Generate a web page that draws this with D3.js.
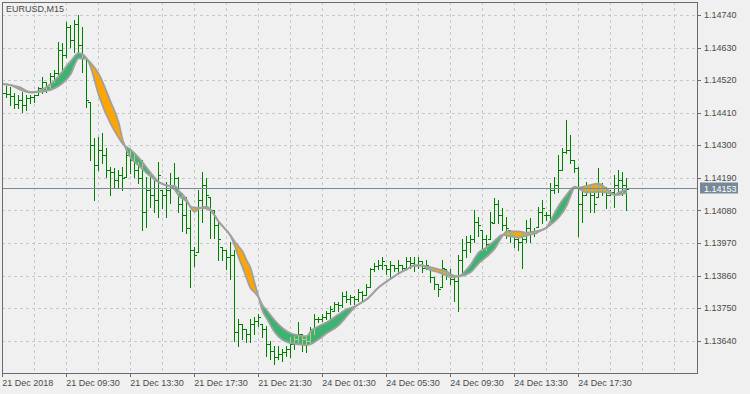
<!DOCTYPE html>
<html>
<head>
<meta charset="utf-8">
<script src="https://cdn.jsdelivr.net/npm/d3@7"></script>
<style>
body { margin: 0; background: #f0f0f0; }
svg { display: block; font-family: "Liberation Sans", Arial, sans-serif; }
</style>
</head>
<body>
<svg id="chart"></svg>
<script>
// EURUSD M15 bars, 21-24 Dec 2018
let opens = [
  1.14493, 1.14477, 1.14473, 1.14466, 1.14440, 1.14453, 1.14436, 1.14460, 1.14463, 1.14470,
  1.14493, 1.14514, 1.14500, 1.14534, 1.14544, 1.14621, 1.14605, 1.14699, 1.14655, 1.14709,
  1.14638, 1.14594, 1.14446, 1.14302, 1.14234, 1.14285, 1.14268, 1.14217, 1.14211, 1.14184,
  1.14201, 1.14194, 1.14268, 1.14251, 1.14217, 1.14190, 1.14073, 1.14150, 1.14133, 1.14116,
  1.14150, 1.14133, 1.14150, 1.14167, 1.14190, 1.14100, 1.14066, 1.14022, 1.13948, 1.13938,
  1.14116, 1.14167, 1.14126, 1.14083, 1.14032, 1.13958, 1.13948, 1.13921, 1.13931, 1.13669,
  1.13695, 1.13679, 1.13662, 1.13695, 1.13706, 1.13695, 1.13679, 1.13628, 1.13604, 1.13584,
  1.13594, 1.13601, 1.13611, 1.13628, 1.13645, 1.13662, 1.13645, 1.13638, 1.13679, 1.13712,
  1.13712, 1.13719, 1.13733, 1.13739, 1.13763, 1.13759, 1.13790, 1.13780, 1.13786, 1.13780,
  1.13803, 1.13796, 1.13823, 1.13881, 1.13891, 1.13897, 1.13897, 1.13881, 1.13897, 1.13887,
  1.13897, 1.13887, 1.13908, 1.13904, 1.13897, 1.13908, 1.13887, 1.13887, 1.13854, 1.13830,
  1.13823, 1.13881, 1.13864, 1.13847, 1.13840, 1.13914, 1.13948, 1.13975, 1.13982, 1.14042,
  1.14015, 1.13982, 1.13982, 1.14039, 1.14100, 1.14066, 1.14032, 1.14015, 1.13998, 1.13982,
  1.13975, 1.13982, 1.14022, 1.14009, 1.14025, 1.14076, 1.14066, 1.14066, 1.14150, 1.14167,
  1.14217, 1.14278, 1.14285, 1.14251, 1.14224, 1.14100, 1.14133, 1.14157, 1.14133, 1.14126,
  1.14167, 1.14157, 1.14133, 1.14143, 1.14167, 1.14184, 1.14167
];
let highs = [
  1.14507, 1.14500, 1.14497, 1.14477, 1.14470, 1.14480, 1.14470, 1.14470, 1.14470, 1.14497,
  1.14530, 1.14514, 1.14544, 1.14554, 1.14648, 1.14645, 1.14716, 1.14706, 1.14722, 1.14739,
  1.14699, 1.14594, 1.14446, 1.14325, 1.14328, 1.14342, 1.14291, 1.14227, 1.14224, 1.14217,
  1.14227, 1.14291, 1.14285, 1.14275, 1.14244, 1.14251, 1.14194, 1.14207, 1.14194, 1.14244,
  1.14150, 1.14177, 1.14207, 1.14241, 1.14194, 1.14140, 1.14126, 1.14083, 1.13958, 1.14150,
  1.14211, 1.14190, 1.14126, 1.14083, 1.14039, 1.13958, 1.13948, 1.13972, 1.13948, 1.13712,
  1.13695, 1.13679, 1.13712, 1.13719, 1.13729, 1.13695, 1.13689, 1.13638, 1.13621, 1.13621,
  1.13611, 1.13621, 1.13652, 1.13655, 1.13702, 1.13662, 1.13652, 1.13685, 1.13729, 1.13719,
  1.13729, 1.13739, 1.13756, 1.13770, 1.13770, 1.13803, 1.13807, 1.13796, 1.13790, 1.13813,
  1.13807, 1.13830, 1.13887, 1.13904, 1.13914, 1.13921, 1.13897, 1.13908, 1.13897, 1.13914,
  1.13897, 1.13921, 1.13921, 1.13921, 1.13921, 1.13908, 1.13914, 1.13887, 1.13854, 1.13830,
  1.13914, 1.13881, 1.13881, 1.13857, 1.13931, 1.13982, 1.13992, 1.13998, 1.14083, 1.14059,
  1.14015, 1.13998, 1.14076, 1.14123, 1.14116, 1.14089, 1.14059, 1.14015, 1.13998, 1.13988,
  1.14005, 1.14049, 1.14056, 1.14022, 1.14093, 1.14116, 1.14073, 1.14174, 1.14194, 1.14268,
  1.14291, 1.14386, 1.14335, 1.14251, 1.14227, 1.14160, 1.14177, 1.14167, 1.14160, 1.14224,
  1.14174, 1.14160, 1.14150, 1.14201, 1.14217, 1.14211, 1.14190
];
let lows = [
  1.14463, 1.14463, 1.14436, 1.14426, 1.14426, 1.14413, 1.14419, 1.14443, 1.14446, 1.14470,
  1.14477, 1.14480, 1.14487, 1.14514, 1.14530, 1.14547, 1.14598, 1.14632, 1.14615, 1.14611,
  1.14547, 1.14429, 1.14251, 1.14116, 1.14217, 1.14241, 1.14194, 1.14133, 1.14157, 1.14160,
  1.14150, 1.14194, 1.14207, 1.14194, 1.14174, 1.14015, 1.14025, 1.14093, 1.14076, 1.14059,
  1.14089, 1.14059, 1.14106, 1.14157, 1.14073, 1.14009, 1.14005, 1.13823, 1.13891, 1.13938,
  1.14042, 1.14093, 1.13988, 1.13988, 1.13914, 1.13914, 1.13881, 1.13847, 1.13638, 1.13621,
  1.13645, 1.13635, 1.13635, 1.13662, 1.13689, 1.13652, 1.13588, 1.13578, 1.13561, 1.13578,
  1.13571, 1.13588, 1.13584, 1.13611, 1.13635, 1.13604, 1.13601, 1.13628, 1.13662, 1.13702,
  1.13706, 1.13712, 1.13712, 1.13739, 1.13739, 1.13753, 1.13770, 1.13763, 1.13763, 1.13773,
  1.13773, 1.13796, 1.13823, 1.13874, 1.13881, 1.13881, 1.13864, 1.13847, 1.13874, 1.13871,
  1.13874, 1.13881, 1.13887, 1.13874, 1.13887, 1.13871, 1.13881, 1.13837, 1.13813, 1.13790,
  1.13823, 1.13847, 1.13830, 1.13773, 1.13739, 1.13871, 1.13924, 1.13941, 1.13972, 1.13992,
  1.13948, 1.13948, 1.13982, 1.14039, 1.14039, 1.14015, 1.13988, 1.13975, 1.13955, 1.13948,
  1.13887, 1.13975, 1.13975, 1.13992, 1.14025, 1.14039, 1.14049, 1.14032, 1.14140, 1.14143,
  1.14217, 1.14275, 1.14241, 1.14211, 1.13992, 1.14042, 1.14133, 1.14076, 1.14076, 1.14126,
  1.14133, 1.14089, 1.14133, 1.14093, 1.14140, 1.14133, 1.14083
];
let closes = [
  1.14477, 1.14473, 1.14466, 1.14440, 1.14453, 1.14436, 1.14460, 1.14463, 1.14470, 1.14493,
  1.14514, 1.14500, 1.14534, 1.14544, 1.14621, 1.14605, 1.14699, 1.14655, 1.14709, 1.14638,
  1.14594, 1.14453, 1.14302, 1.14234, 1.14285, 1.14268, 1.14217, 1.14211, 1.14184, 1.14201,
  1.14190, 1.14268, 1.14251, 1.14217, 1.14190, 1.14073, 1.14150, 1.14133, 1.14116, 1.14201,
  1.14133, 1.14150, 1.14167, 1.14190, 1.14100, 1.14066, 1.14022, 1.13948, 1.13931, 1.14116,
  1.14167, 1.14133, 1.14083, 1.14032, 1.13982, 1.13948, 1.13921, 1.13931, 1.13669, 1.13695,
  1.13679, 1.13662, 1.13695, 1.13706, 1.13719, 1.13679, 1.13628, 1.13604, 1.13584, 1.13594,
  1.13601, 1.13611, 1.13628, 1.13645, 1.13662, 1.13645, 1.13638, 1.13679, 1.13712, 1.13712,
  1.13719, 1.13733, 1.13746, 1.13763, 1.13759, 1.13790, 1.13780, 1.13786, 1.13780, 1.13803,
  1.13796, 1.13823, 1.13881, 1.13891, 1.13897, 1.13908, 1.13881, 1.13897, 1.13887, 1.13897,
  1.13887, 1.13908, 1.13904, 1.13897, 1.13908, 1.13887, 1.13897, 1.13854, 1.13830, 1.13813,
  1.13887, 1.13864, 1.13847, 1.13840, 1.13914, 1.13948, 1.13975, 1.13982, 1.14042, 1.14032,
  1.13982, 1.13965, 1.14042, 1.14100, 1.14066, 1.14032, 1.14022, 1.13998, 1.13982, 1.13975,
  1.13982, 1.14022, 1.14009, 1.14005, 1.14076, 1.14089, 1.14066, 1.14150, 1.14167, 1.14217,
  1.14278, 1.14285, 1.14251, 1.14224, 1.14100, 1.14133, 1.14157, 1.14133, 1.14100, 1.14167,
  1.14157, 1.14133, 1.14143, 1.14167, 1.14184, 1.14167, 1.14153
];

// two moving averages of the band indicator, read at these bar numbers
let maIdx = [0, 2, 4, 7, 9, 12, 14, 17, 19, 21, 22, 24, 27, 29, 30, 32, 34, 37, 39, 42,
  43, 44, 46, 47, 48, 49, 51, 52, 54, 57, 58, 59, 60, 61, 62, 63, 64, 65, 66, 68, 70,
  72, 74, 76, 77, 79, 81, 84, 86, 88, 89, 91, 94, 96, 99, 101, 103, 105, 106, 109, 111,
  112, 114, 116, 117, 119, 121, 123, 125, 126, 129, 131, 133, 135, 136, 137, 139, 141, 142, 143, 144,
  146, 149, 151, 153, 154, 156];
let maFast = [1.14507, 1.14503, 1.14490, 1.14478, 1.14483, 1.14507, 1.14534, 1.14584, 1.14611, 1.14594,
  1.14564, 1.14470, 1.14372, 1.14325, 1.14305, 1.14285, 1.14258, 1.14207, 1.14177, 1.14163,
  1.14163, 1.14147, 1.14116, 1.14089, 1.14076, 1.14086, 1.14093, 1.14083, 1.14042, 1.13992,
  1.13961, 1.13921, 1.13887, 1.13850, 1.13817, 1.13803, 1.13786, 1.13759, 1.13743, 1.13709, 1.13682,
  1.13665, 1.13658, 1.13655, 1.13672, 1.13689, 1.13702, 1.13729, 1.13746, 1.13756, 1.13763,
  1.13780, 1.13820, 1.13840, 1.13867, 1.13881, 1.13894, 1.13894, 1.13884, 1.13871, 1.13860,
  1.13854, 1.13857, 1.13881, 1.13897, 1.13938, 1.13955, 1.13978, 1.13998, 1.13995, 1.13988,
  1.13995, 1.14002, 1.14015, 1.14022, 1.14046, 1.14096, 1.14133, 1.14150, 1.14160, 1.14153,
  1.14140, 1.14143, 1.14140, 1.14133, 1.14140, 1.14150];
let maSlow = [1.14507, 1.14503, 1.14497, 1.14480, 1.14480, 1.14487, 1.14500, 1.14541, 1.14594, 1.14591,
  1.14578, 1.14541, 1.14446, 1.14376, 1.14318, 1.14258, 1.14231, 1.14194, 1.14174, 1.14160,
  1.14150, 1.14130, 1.14110, 1.14093, 1.14089, 1.14089, 1.14086, 1.14079, 1.14042, 1.13995,
  1.13975, 1.13958, 1.13941, 1.13911, 1.13884, 1.13834, 1.13786, 1.13739, 1.13716, 1.13669, 1.13642,
  1.13632, 1.13628, 1.13625, 1.13628, 1.13645, 1.13665, 1.13692, 1.13722, 1.13753, 1.13763,
  1.13780, 1.13820, 1.13840, 1.13867, 1.13881, 1.13894, 1.13894, 1.13891, 1.13881, 1.13874,
  1.13864, 1.13857, 1.13864, 1.13871, 1.13901, 1.13924, 1.13951, 1.13995, 1.14009, 1.14009,
  1.14005, 1.14009, 1.14015, 1.14022, 1.14032, 1.14056, 1.14096, 1.14130, 1.14157, 1.14157,
  1.14163, 1.14170, 1.14153, 1.14133, 1.14133, 1.14140];

let yTicks = [1.14740, 1.14630, 1.14520, 1.14410, 1.14300, 1.14190, 1.14080, 1.13970, 1.13860, 1.13750, 1.13640];
let xTickIdx = [0, 16, 32, 48, 64, 80, 96, 112, 128, 144];
let xTickLabels = ['21 Dec 2018', '21 Dec 09:30', '21 Dec 13:30', '21 Dec 17:30', '21 Dec 21:30',
  '24 Dec 01:30', '24 Dec 05:30', '24 Dec 09:30', '24 Dec 13:30', '24 Dec 17:30'];
let lastPrice = 1.14153;

// Size and plot frame
let width = 750;
let height = 394;
let frameL = 2, frameR = 697, frameT = 2, frameB = 373;

let svg = d3.select('#chart')
    .attr('width', width)
    .attr('height', height);

// bar number -> x, price -> y
let x = d3.scaleLinear().domain([0, 173.5]).range([2.7, 696.7]);
let y = d3.scaleLinear().domain([1.13640, 1.14740]).range([340.7, 15]);

let px = v => Math.floor(v) + 0.5;
let py = v => Math.round(v) + 0.5;

svg.append('rect')
    .attr('width', width).attr('height', height)
    .attr('fill', '#f0f0f0');

let defs = svg.append('defs');
defs.append('clipPath').attr('id', 'plot-clip')
  .append('rect')
    .attr('x', frameL + 1).attr('y', frameT + 1)
    .attr('width', frameR - frameL - 1).attr('height', frameB - frameT - 1);

let plot = svg.append('g').attr('clip-path', 'url(#plot-clip)');

// dashed grid
plot.selectAll('.hgrid')
  .data(yTicks)
  .enter().append('line')
    .attr('x1', frameL).attr('x2', frameR)
    .attr('y1', d => py(y(d))).attr('y2', d => py(y(d)))
    .attr('stroke', '#c8c8c8')
    .attr('stroke-dasharray', '3,3');

plot.selectAll('.vgrid')
  .data(d3.range(8, 174, 8))
  .enter().append('line')
    .attr('x1', d => px(x(d))).attr('x2', d => px(x(d)))
    .attr('y1', frameT).attr('y2', frameB)
    .attr('stroke', '#c8c8c8')
    .attr('stroke-dasharray', '3,3');

// OHLC bars
let bars = opens.map((o, i) => ({ i: i, o: o, h: highs[i], l: lows[i], c: closes[i] }));

function barPath(d) {
    let bx = px(x(d.i));
    let top = Math.round(y(d.h));
    let bot = Math.round(y(d.l)) + 1;
    let yo = py(y(d.o));
    let yc = py(y(d.c));
    return `M${bx},${top}V${bot}M${bx - 2.5},${yo}H${bx}M${bx},${yc}H${bx + 2.5}`;
}

function drawBars(g, color) {
    g.selectAll('path')
      .data(bars)
      .enter().append('path')
        .attr('d', barPath)
        .attr('fill', 'none')
        .attr('stroke', color)
        .attr('stroke-width', 1)
        .attr('shape-rendering', 'crispEdges');
}

drawBars(plot.append('g'), '#008000');

// band between the two averages: green where fast is above slow, orange below
let maData = maIdx.map((d, k) => ({ i: d, fast: maFast[k], slow: maSlow[k] }));
let curve = d3.curveMonotoneX;

let band = d3.area()
    .x(d => x(d.i)).y0(d => y(d.slow)).y1(d => y(d.fast)).curve(curve);
let aboveSlow = d3.area()
    .x(d => x(d.i)).y0(0).y1(d => y(d.slow)).curve(curve);
let belowSlow = d3.area()
    .x(d => x(d.i)).y0(height).y1(d => y(d.slow)).curve(curve);

defs.append('clipPath').attr('id', 'clip-up').append('path').attr('d', aboveSlow(maData));
defs.append('clipPath').attr('id', 'clip-down').append('path').attr('d', belowSlow(maData));
defs.append('clipPath').attr('id', 'clip-band').append('path').attr('d', band(maData));

plot.append('path')
    .attr('d', band(maData))
    .attr('fill', '#3cb371')
    .attr('clip-path', 'url(#clip-up)');
plot.append('path')
    .attr('d', band(maData))
    .attr('fill', '#ffa500')
    .attr('clip-path', 'url(#clip-down)');

// bars show through the band in a mixed colour
drawBars(plot.append('g').attr('clip-path', 'url(#clip-up)')
    .append('g').attr('clip-path', 'url(#clip-band)'), '#c9c48a');
drawBars(plot.append('g').attr('clip-path', 'url(#clip-down)')
    .append('g').attr('clip-path', 'url(#clip-band)'), '#3fc8f0');

let lineFast = d3.line().x(d => x(d.i)).y(d => y(d.fast)).curve(curve);
let lineSlow = d3.line().x(d => x(d.i)).y(d => y(d.slow)).curve(curve);

[lineSlow, lineFast].forEach(ln => {
    plot.append('path')
        .attr('d', ln(maData))
        .attr('fill', 'none')
        .attr('stroke', '#a0a0a0')
        .attr('stroke-width', 1.8);
});

// last price line
let lastY = Math.floor(y(lastPrice)) + 0.5;
plot.append('line')
    .attr('x1', frameL).attr('x2', frameR)
    .attr('y1', lastY).attr('y2', lastY)
    .attr('stroke', '#778899');

// frame
svg.append('rect')
    .attr('x', frameL + 0.5).attr('y', frameT + 0.5)
    .attr('width', frameR - frameL).attr('height', frameB - frameT)
    .attr('fill', 'none')
    .attr('stroke', '#6b6b6b')
    .attr('shape-rendering', 'crispEdges');

// price axis on the right
let yAxis = svg.append('g');
yAxis.selectAll('line')
  .data(yTicks)
  .enter().append('line')
    .attr('x1', frameR).attr('x2', frameR + 4)
    .attr('y1', d => py(y(d))).attr('y2', d => py(y(d)))
    .attr('stroke', '#6b6b6b')
    .attr('shape-rendering', 'crispEdges');
yAxis.selectAll('text')
  .data(yTicks)
  .enter().append('text')
    .attr('x', 704)
    .attr('y', d => y(d))
    .attr('dy', '0.35em')
    .attr('font-size', '9px')
    .attr('fill', '#4a4a4a')
    .text(d => d.toFixed(5));

svg.append('rect')
    .attr('x', 700).attr('y', lastY - 6)
    .attr('width', 38).attr('height', 11)
    .attr('fill', '#778899');
svg.append('text')
    .attr('x', 704).attr('y', lastY)
    .attr('dy', '0.35em')
    .attr('font-size', '9px')
    .attr('fill', '#ffffff')
    .text(lastPrice.toFixed(5));

// time axis
let xAxis = svg.append('g');
xAxis.selectAll('line')
  .data(xTickIdx)
  .enter().append('line')
    .attr('x1', d => px(x(d))).attr('x2', d => px(x(d)))
    .attr('y1', frameB).attr('y2', frameB + 4)
    .attr('stroke', '#6b6b6b')
    .attr('shape-rendering', 'crispEdges');
xAxis.selectAll('text')
  .data(xTickIdx)
  .enter().append('text')
    .attr('x', d => x(d) - 0.5)
    .attr('y', 386)
    .attr('font-size', '9px')
    .attr('fill', '#4a4a4a')
    .text((d, k) => xTickLabels[k]);

svg.append('text')
    .attr('x', 6).attr('y', 12)
    .attr('font-size', '9px')
    .attr('fill', '#4a4a4a')
    .text('EURUSD,M15');
</script>
</body>
</html>
